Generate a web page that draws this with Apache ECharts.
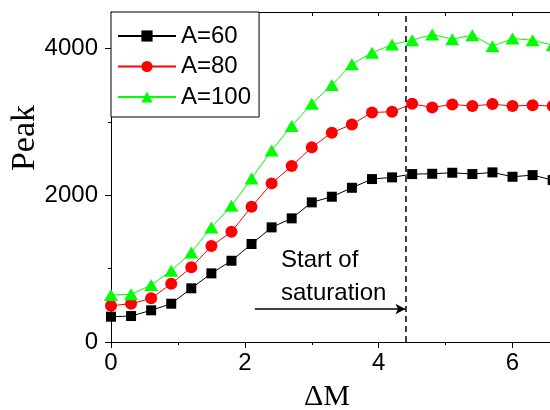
<!DOCTYPE html>
<html>
<head>
<meta charset="utf-8">
<script src="https://cdn.jsdelivr.net/npm/echarts@6/dist/echarts.min.js"></script>
<style>
  html, body { margin: 0; padding: 0; background: #fff; }
  #chart { width: 550px; height: 410px; }
</style>
</head>
<body>
<div id="chart"></div>
<script>
// ΔM values shared by all three series
const deltaM = [0, 0.3, 0.6, 0.9, 1.2, 1.5, 1.8, 2.1, 2.4, 2.7, 3.0, 3.3, 3.6, 3.9, 4.2, 4.5, 4.8, 5.1, 5.4, 5.7, 6.0, 6.3, 6.6]
const peakA60 = [345, 354, 432, 522, 732, 936, 1108, 1336, 1563, 1686, 1904, 1981, 2103, 2222, 2245, 2290, 2294, 2308, 2290, 2313, 2253, 2276, 2208]
const peakA80 = [495, 522, 595, 795, 1018, 1308, 1503, 1844, 2163, 2399, 2654, 2855, 2967, 3131, 3139, 3248, 3199, 3240, 3217, 3244, 3217, 3230, 3217]
const peakA100 = [641, 650, 777, 972, 1222, 1563, 1858, 2230, 2612, 2945, 3250, 3503, 3789, 3943, 4057, 4116, 4194, 4130, 4184, 4034, 4139, 4116, 4048]

const xTicks = [0, 2, 4, 6]
const xMinorTicks = [1, 3, 5]
const xTopTicks = [1, 2, 3, 4, 5, 6]
const yTicks = [0, 2000, 4000]
const yMinorTicks = [1000, 3000]

const saturationX = 4.4
const arrowStart = [2.15, 450]

const sans = "'Liberation Sans', Arial, sans-serif"
const serif = "'Liberation Serif', 'Times New Roman', serif"

const pairs = (ys) => deltaM.map((x, i) => [x, ys[i]])
const plain = (v) => String(v)

const chart = echarts.init(document.getElementById('chart'))

// the plot runs on past the right edge of the picture, so the axis ends at ~6.56
const xBase = { type: 'value', min: 0, max: 6.56, splitLine: { show: false } }
const yBase = { type: 'value', min: 0, max: 4500, splitLine: { show: false } }
const axisBlack = { lineStyle: { color: '#000', width: 1 } }

const option = {
  animation: false,
  backgroundColor: '#fff',
  grid: { left: 111, top: 12, right: 0, bottom: 68 },
  xAxis: [
    {
      ...xBase,
      position: 'bottom',
      axisLine: axisBlack,
      axisTick: { customValues: xTicks, length: 6, lineStyle: { color: '#000' } },
      axisLabel: { customValues: xTicks, formatter: plain, margin: 9, color: '#000', fontSize: 24, fontFamily: sans }
    },
    {
      ...xBase,
      position: 'bottom',
      axisLine: { show: false },
      axisTick: { customValues: xMinorTicks, length: 3, lineStyle: { color: '#000' } },
      axisLabel: { show: false }
    },
    {
      ...xBase,
      position: 'top',
      axisLine: axisBlack,
      axisTick: { customValues: xTopTicks, inside: true, length: 4, lineStyle: { color: '#000' } },
      axisLabel: { show: false }
    }
  ],
  yAxis: [
    {
      ...yBase,
      position: 'left',
      axisLine: axisBlack,
      axisTick: { customValues: yTicks, length: 6, lineStyle: { color: '#000' } },
      axisLabel: { customValues: yTicks, formatter: plain, margin: 13, color: '#000', fontSize: 24, fontFamily: sans }
    },
    {
      ...yBase,
      position: 'left',
      axisLine: { show: false },
      axisTick: { customValues: yMinorTicks, length: 3, lineStyle: { color: '#000' } },
      axisLabel: { show: false }
    }
  ],
  legend: {
    orient: 'vertical',
    left: 111,
    top: 12,
    padding: [12, 8, 8, 6],
    itemWidth: 58,
    itemHeight: 14,
    itemGap: 6.5,
    borderColor: '#000',
    borderWidth: 1,
    backgroundColor: '#fff',
    textStyle: { color: '#000', fontSize: 24, lineHeight: 24, fontFamily: sans },
    data: ['A=60', 'A=80', 'A=100']
  },
  graphic: [
    { type: 'text', x: 281, y: 260, style: { text: 'Start of', fill: '#000', font: '24px ' + sans, verticalAlign: 'middle' } },
    { type: 'text', x: 281, y: 293, style: { text: 'saturation', fill: '#000', font: '24px ' + sans, verticalAlign: 'middle' } },
    { type: 'text', x: 327, y: 397, style: { text: 'ΔM', fill: '#000', font: '30px ' + serif, align: 'center', verticalAlign: 'middle' } },
    { type: 'text', x: 25, y: 138, rotation: Math.PI / 2, style: { text: 'Peak', fill: '#000', font: '34px ' + serif, align: 'center', verticalAlign: 'middle' } }
  ],
  series: [
    {
      name: 'A=60',
      type: 'line',
      data: pairs(peakA60),
      symbol: 'rect',
      symbolSize: 10,
      clip: false,
      itemStyle: { color: '#000' },
      lineStyle: { color: '#000', width: 1 },
      markLine: {
        silent: true,
        symbol: 'none',
        label: { show: false },
        lineStyle: { color: '#000', width: 1.5, type: [6, 4] },
        data: [{ xAxis: saturationX }]
      }
    },
    {
      name: 'A=80',
      type: 'line',
      data: pairs(peakA80),
      symbol: 'circle',
      symbolSize: 12,
      clip: false,
      itemStyle: { color: '#ff0000' },
      lineStyle: { color: '#ff0000', width: 1 },
      markLine: {
        silent: true,
        symbol: ['none', 'arrow'],
        symbolSize: [8, 10],
        label: { show: false },
        lineStyle: { color: '#000', width: 1.5, type: 'solid' },
        data: [[{ coord: arrowStart }, { coord: [saturationX, arrowStart[1]] }]]
      }
    },
    {
      name: 'A=100',
      type: 'line',
      data: pairs(peakA100),
      symbol: 'triangle',
      symbolSize: [14, 12],
      clip: false,
      itemStyle: { color: '#00ff00' },
      lineStyle: { color: '#00ff00', width: 1 }
    }
  ]
}

chart.setOption(option)
</script>
</body>
</html>
